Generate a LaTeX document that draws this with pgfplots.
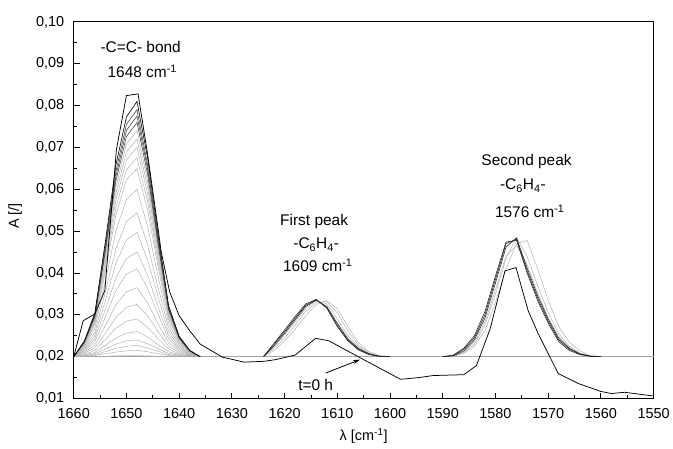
\documentclass[border=0pt]{standalone}
\usepackage{fontspec}
\setmainfont{Liberation Sans}
\usepackage{pgfplots}
\usepackage{pgfplotstable}
\pgfplotsset{compat=1.18}
\usetikzlibrary{arrows.meta}

\pgfplotstableread{
x c1 c2 c3 c4 c5 c6 c7 c8 c9 c10 c11 c12 c13 c14 c15 c16 c17 c18 c19 c20 c21 c22
1660 0.0200 0.0200 0.0200 0.0200 0.0200 0.0200 0.0200 0.0200 0.0200 0.0200 0.0200 0.0200 0.0200 0.0200 0.0200 0.0200 0.0200 0.0200 0.0200 0.0200 0.0200 0.0200
1658 0.0200 0.0201 0.0202 0.0202 0.0204 0.0205 0.0208 0.0210 0.0213 0.0215 0.0218 0.0221 0.0224 0.0227 0.0229 0.0230 0.0231 0.0232 0.0234 0.0235 0.0235 0.0237
1656 0.0201 0.0203 0.0205 0.0207 0.0210 0.0215 0.0221 0.0228 0.0236 0.0243 0.0250 0.0258 0.0268 0.0277 0.0281 0.0285 0.0288 0.0292 0.0295 0.0298 0.0300 0.0304
1654 0.0201 0.0207 0.0212 0.0218 0.0227 0.0241 0.0256 0.0274 0.0295 0.0313 0.0334 0.0355 0.0380 0.0403 0.0414 0.0425 0.0434 0.0443 0.0452 0.0459 0.0466 0.0475
1652 0.0202 0.0211 0.0220 0.0230 0.0245 0.0268 0.0294 0.0324 0.0358 0.0388 0.0423 0.0458 0.0500 0.0538 0.0556 0.0575 0.0590 0.0605 0.0620 0.0631 0.0643 0.0658
1650 0.0203 0.0214 0.0225 0.0238 0.0256 0.0285 0.0318 0.0355 0.0397 0.0435 0.0479 0.0523 0.0576 0.0623 0.0647 0.0670 0.0689 0.0708 0.0726 0.0741 0.0755 0.0773
1648 0.0203 0.0215 0.0227 0.0240 0.0260 0.0290 0.0325 0.0365 0.0410 0.0450 0.0497 0.0544 0.0600 0.0650 0.0675 0.0700 0.0720 0.0740 0.0760 0.0775 0.0790 0.0810
1646 0.0202 0.0212 0.0221 0.0231 0.0247 0.0270 0.0298 0.0329 0.0364 0.0395 0.0432 0.0468 0.0512 0.0551 0.0571 0.0590 0.0606 0.0621 0.0637 0.0649 0.0660 0.0676
1644 0.0201 0.0207 0.0213 0.0219 0.0229 0.0243 0.0260 0.0279 0.0301 0.0320 0.0343 0.0365 0.0392 0.0416 0.0428 0.0440 0.0450 0.0459 0.0469 0.0476 0.0483 0.0493
1642 0.0201 0.0203 0.0205 0.0208 0.0212 0.0218 0.0225 0.0233 0.0242 0.0250 0.0259 0.0269 0.0280 0.0290 0.0295 0.0300 0.0304 0.0308 0.0312 0.0315 0.0318 0.0322
1640 0.0200 0.0201 0.0202 0.0203 0.0205 0.0207 0.0210 0.0213 0.0217 0.0220 0.0224 0.0228 0.0232 0.0236 0.0238 0.0240 0.0242 0.0243 0.0245 0.0246 0.0247 0.0249
1638 0.0200 0.0200 0.0201 0.0201 0.0202 0.0202 0.0203 0.0204 0.0205 0.0206 0.0207 0.0209 0.0210 0.0211 0.0212 0.0213 0.0213 0.0214 0.0214 0.0214 0.0215 0.0215
1636 0.0200 0.0200 0.0200 0.0200 0.0200 0.0200 0.0200 0.0200 0.0200 0.0200 0.0200 0.0200 0.0200 0.0200 0.0200 0.0200 0.0200 0.0200 0.0200 0.0200 0.0200 0.0200
}\peakA

\pgfplotstableread{
x c1 c2 c3 c4 c5 c6
1624 0.0200 0.0200 0.0200 0.0200 0.0200 0.0200
1622 0.0230 0.0226 0.0232 0.0220 0.0215 0.0224
1620 0.0260 0.0256 0.0264 0.0245 0.0238 0.0252
1618 0.0292 0.0288 0.0296 0.0275 0.0266 0.0283
1616 0.0323 0.0320 0.0326 0.0308 0.0298 0.0316
1614 0.0336 0.0335 0.0337 0.0330 0.0325 0.0334
1612 0.0318 0.0320 0.0316 0.0332 0.0334 0.0326
1610 0.0275 0.0280 0.0272 0.0305 0.0315 0.0290
1608 0.0240 0.0243 0.0238 0.0262 0.0272 0.0250
1606 0.0218 0.0220 0.0216 0.0228 0.0234 0.0224
1604 0.0206 0.0207 0.0205 0.0209 0.0212 0.0208
1602 0.0201 0.0201 0.0201 0.0202 0.0203 0.0201
1600 0.0200 0.0200 0.0200 0.0200 0.0200 0.0200
}\peakB

\pgfplotstableread{
x c1 c2 c3 c4 c5 c6
1590 0.0200 0.0200 0.0200 0.0200 0.0200 0.0200
1588 0.0203 0.0204 0.0202 0.0201 0.0201 0.0201
1586 0.0218 0.0220 0.0214 0.0210 0.0208 0.0212
1584 0.0245 0.0250 0.0240 0.0230 0.0225 0.0235
1582 0.0300 0.0308 0.0292 0.0275 0.0262 0.0283
1580 0.0385 0.0393 0.0376 0.0350 0.0330 0.0360
1578 0.0470 0.0474 0.0462 0.0435 0.0410 0.0440
1576 0.0481 0.0478 0.0484 0.0485 0.0470 0.0467
1574 0.0405 0.0400 0.0412 0.0440 0.0478 0.0420
1572 0.0340 0.0334 0.0346 0.0370 0.0410 0.0352
1570 0.0285 0.0280 0.0290 0.0305 0.0335 0.0293
1568 0.0240 0.0236 0.0244 0.0255 0.0272 0.0248
1566 0.0218 0.0215 0.0220 0.0225 0.0235 0.0222
1564 0.0206 0.0205 0.0207 0.0209 0.0214 0.0208
1562 0.0201 0.0201 0.0201 0.0202 0.0203 0.0202
1560 0.0200 0.0200 0.0200 0.0200 0.0200 0.0200
}\peakC

\pgfplotstableread{
x y
1660.0 0.0200
1658.2 0.0286
1656.0 0.0302
1654.1 0.0358
1651.9 0.0695
1650.0 0.0824
1647.8 0.0828
1646.0 0.0685
1644.1 0.0515
1643.4 0.0450
1641.8 0.0355
1640.0 0.0298
1638.0 0.0262
1636.0 0.0230
1631.8 0.0199
1627.7 0.0187
1623.9 0.0189
1621.7 0.0193
1618.0 0.0204
1614.1 0.0244
1611.6 0.0238
1605.9 0.0199
1598.0 0.0146
1594.6 0.0150
1591.8 0.0155
1586.0 0.0157
1583.6 0.0179
1581.0 0.0267
1578.2 0.0405
1576.1 0.0413
1573.8 0.0310
1571.9 0.0255
1568.1 0.0160
1564.3 0.0136
1560.0 0.0117
1558.0 0.0112
1555.5 0.0115
1550.0 0.0106
}\tzero

\begin{document}
\begin{tikzpicture}
\begin{axis}[
  at={(0,0)}, anchor=south west,
  scale only axis,
  width=582bp, height=378bp,
  x dir=reverse,
  xmin=1550, xmax=1660,
  ymin=0.01, ymax=0.10,
  xtick={1550,1560,...,1660},
  ytick={0.01,0.02,...,0.101},
  minor x tick num=1,
  minor y tick num=1,
  tick align=inside,
  xtick pos=bottom, ytick pos=left,
  major tick length=6bp,
  minor tick length=3.5bp,
  axis line style={line width=1.1bp},
  every tick/.style={black, line width=0.9bp},
  font=\fontsize{14.5bp}{16bp}\selectfont,
  /pgf/number format/assume math mode=true,
  x tick label style={/pgf/number format/1000 sep={}, yshift=-6.5bp},
  y tick label style={/pgf/number format/.cd, use comma, fixed, fixed zerofill, precision=2, /tikz/.cd, xshift=-6bp},
  xlabel={λ [cm\textsuperscript{-1}]},
  ylabel={A [/]},
  xlabel style={at={(axis description cs:0.5,-0.1005)}, anchor=center},
  ylabel style={at={(axis description cs:-0.101,0.485)}, anchor=center},
  clip=false,
]
% baseline
\addplot[gray!70, line width=0.5bp] coordinates {(1660,0.02) (1550,0.02)};

% C=C peak, decreasing with time
\pgfplotsinvokeforeach{1,...,18}{
  \addplot[gray!65, line width=0.45bp] table[x=x, y=c#1] {\peakA};
}
\pgfplotsinvokeforeach{19,...,21}{
  \addplot[gray!40!black, line width=0.5bp] table[x=x, y=c#1] {\peakA};
}
\addplot[black, line width=0.6bp] table[x=x, y=c22] {\peakA};

% aromatic first peak
\pgfplotsinvokeforeach{4,5,6}{
  \addplot[gray!60, line width=0.5bp] table[x=x, y=c#1] {\peakB};
}
\pgfplotsinvokeforeach{1,2,3}{
  \addplot[gray!25!black, line width=0.55bp] table[x=x, y=c#1] {\peakB};
}

% aromatic second peak
\pgfplotsinvokeforeach{4,5,6}{
  \addplot[gray!60, line width=0.5bp] table[x=x, y=c#1] {\peakC};
}
\pgfplotsinvokeforeach{1,2,3}{
  \addplot[gray!25!black, line width=0.55bp] table[x=x, y=c#1] {\peakC};
}

% t = 0 h
\addplot[black, line width=0.75bp] table[x=x, y=y] {\tzero};

% annotations
\node[font=\fontsize{15.5bp}{17bp}\selectfont] at (axis cs:1647.3,0.0939) {-C=C- bond};
\node[font=\fontsize{15.5bp}{17bp}\selectfont] at (axis cs:1647.0,0.0881) {1648 cm\textsuperscript{-1}};
\node[font=\fontsize{15.5bp}{17bp}\selectfont] at (axis cs:1614.4,0.0522) {First peak};
\node[font=\fontsize{15.5bp}{17bp}\selectfont] at (axis cs:1614.0,0.0467) {-C\textsubscript{6}H\textsubscript{4}-};
\node[font=\fontsize{15.5bp}{17bp}\selectfont] at (axis cs:1613.7,0.0419) {1609 cm\textsuperscript{-1}};
\node[font=\fontsize{15.5bp}{17bp}\selectfont] at (axis cs:1574.1,0.0667) {Second peak};
\node[font=\fontsize{15.5bp}{17bp}\selectfont] at (axis cs:1574.8,0.0608) {-C\textsubscript{6}H\textsubscript{4}-};
\node[font=\fontsize{15.5bp}{17bp}\selectfont] at (axis cs:1573.5,0.0548) {1576 cm\textsuperscript{-1}};
\node[font=\fontsize{15.5bp}{17bp}\selectfont] at (axis cs:1614.1,0.0132) {t=0 h};
\draw[-{Stealth[length=7bp,width=4bp]}, line width=0.8bp] (axis cs:1612.2,0.0161) -- (axis cs:1605.7,0.0193);
\end{axis}
\path (-74bp,-50bp) rectangle (599bp,400bp);
\end{tikzpicture}
\end{document}
